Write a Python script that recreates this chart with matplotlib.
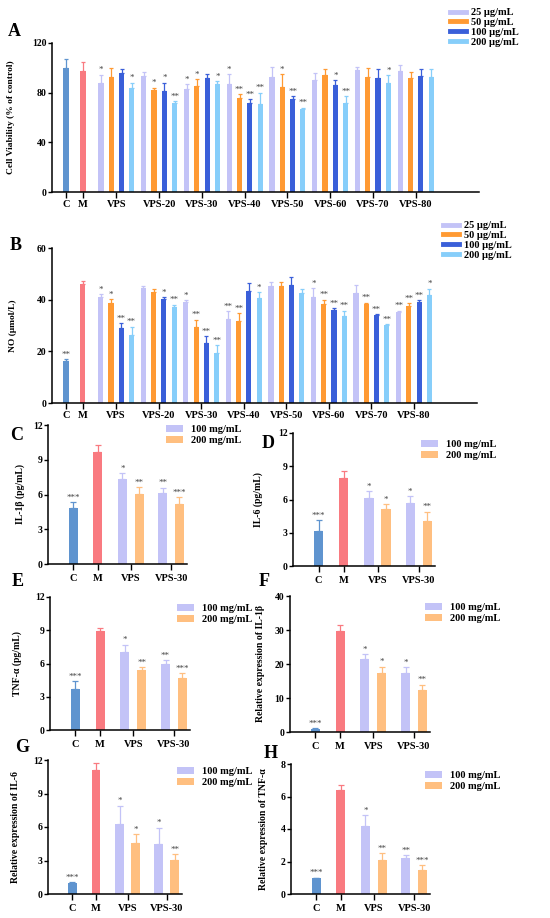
import matplotlib
matplotlib.use('Agg')
import matplotlib.pyplot as plt
from matplotlib.patches import Patch
from matplotlib.lines import Line2D

plt.rcParams['font.family'] = ['Liberation Serif', 'DejaVu Serif']
plt.rcParams['font.weight'] = 'bold'
plt.rcParams['axes.labelweight'] = 'bold'

W, H = 550, 918

# ---------------- data ----------------
big_groups = ['VPS', 'VPS-20', 'VPS-30', 'VPS-40', 'VPS-50', 'VPS-60', 'VPS-70', 'VPS-80']
big_doses = ['25 μg/mL', '50 μg/mL', '100 μg/mL', '200 μg/mL']

# panel A: cell viability
via_cm = [100.0, 97.5]
via_cm_sd = [7.0, 7.5]
via = [[87.5, 93, 96, 84], [93.5, 82, 81.5, 72], [83, 85.5, 91.5, 87],
       [87, 76, 71.5, 71], [93, 84.5, 74.5, 67], [90.5, 94, 86, 72],
       [98.5, 92.5, 91.5, 88], [97.5, 92, 93.5, 93]]
via_sd = [[7, 7, 3, 4], [3, 2, 6.5, 1], [4, 5.5, 3.5, 2],
          [8, 3, 3.5, 9], [8, 10.5, 2.5, 1], [5.5, 5, 4, 5],
          [2.5, 7.5, 7.5, 6], [4.5, 5, 5.5, 6]]
via_sig_cm = ['', '']
via_sig = [['*', '', '', '*'], ['', '*', '*', '**'], ['*', '*', '', '*'],
           ['*', '**', '**', '**'], ['', '*', '**', '**'], ['', '', '*', '**'],
           ['', '', '', '*'], ['', '', '', '']]

# panel B: NO
no_cm = [16.3, 46.2]
no_cm_sd = [0.7, 1.0]
no = [[41, 38.8, 29.2, 26.2], [44.7, 42.8, 40.1, 37.3], [39.2, 29.5, 23.2, 19.3],
      [32.4, 31.6, 43.2, 40.5], [45.2, 45.2, 45.6, 42.7], [41.2, 38.4, 36.1, 33.5],
      [42.4, 38.4, 34.0, 30.3], [35.1, 37.6, 39.2, 42.0]]
no_sd = [[1.2, 1.3, 1.6, 3.3], [0.4, 1.4, 0.9, 0.8], [0.6, 2.8, 2.6, 3.2],
         [3.1, 3.1, 3.1, 2.3], [1.8, 1.8, 3.0, 1.6], [3.3, 1.6, 0.6, 2.3],
         [3.1, 0.5, 0.5, 0.3], [0.7, 1.1, 0.6, 2.3]]
no_sig_cm = ['**', '']
no_sig = [['*', '*', '**', '**'], ['', '', '*', '**'], ['*', '**', '**', '**'],
          ['**', '**', '', '*'], ['', '', '', ''], ['*', '**', '**', '**'],
          ['', '**', '**', '**'], ['**', '**', '**', '*']]

# panels C-H: order C, M, VPS-100, VPS-200, VPS30-100, VPS30-200
small_groups = ['C', 'M', 'VPS', 'VPS-30']
small_doses = ['100 mg/mL', '200 mg/mL']

il1b = [4.85, 9.65, 7.35, 6.06, 6.15, 5.2]
il1b_sd = [0.5, 0.65, 0.5, 0.55, 0.45, 0.6]
il1b_sig = ['***', '', '*', '**', '**', '***']

il6 = [3.2, 7.97, 6.1, 5.1, 5.65, 4.05]
il6_sd = [0.95, 0.63, 0.65, 0.45, 0.65, 0.85]
il6_sig = ['***', '', '*', '*', '*', '**']

tnf = [3.73, 8.9, 7.05, 5.45, 5.95, 4.65]
tnf_sd = [0.67, 0.3, 0.65, 0.25, 0.35, 0.45]
tnf_sig = ['***', '', '*', '**', '**', '***']

rel_il1b = [1.0, 29.8, 21.4, 17.4, 17.5, 12.5]
rel_il1b_sd = [0.1, 1.7, 1.6, 1.8, 1.5, 1.4]
rel_il1b_sig = ['***', '', '*', '*', '*', '**']

rel_il6 = [1.0, 11.1, 6.27, 4.6, 4.5, 3.05]
rel_il6_sd = [0.05, 0.65, 1.63, 0.75, 1.45, 0.55]
rel_il6_sig = ['***', '', '*', '*', '*', '**']

rel_tnf = [0.96, 6.37, 4.2, 2.07, 2.23, 1.48]
rel_tnf_sd = [0.05, 0.33, 0.65, 0.43, 0.17, 0.3]
rel_tnf_sig = ['***', '', '*', '**', '**', '***']

# colours
c_ctrl = '#5f94cf'
c_model = '#f97a80'
big_cols = ['#c3c3f7', '#ff9a33', '#3a5fd9', '#87cefa']
small_cols = ['#c3c3f7', '#ffbf80']
star_col = '#444444'


def rect(l, r, t, b):
    return [l / W, 1 - b / H, (r - l) / W, (b - t) / H]


def style_axis(ax, ylim, yticks, xpad):
    for s in ['top', 'right']:
        ax.spines[s].set_visible(False)
    for s in ['left', 'bottom']:
        ax.spines[s].set_linewidth(1.1)
    ax.set_ylim(*ylim)
    ax.set_yticks(yticks)
    ax.tick_params(axis='y', length=3, width=1, labelsize=7, pad=1)
    ax.tick_params(axis='x', length=4, width=1, labelsize=7.5, pad=xpad)
    for lab in ax.get_yticklabels() + ax.get_xticklabels():
        lab.set_fontweight('bold')


def one_bar(ax, x, v, sd, col, w, sig, ytop, cap):
    ax.bar(x, v, width=w, color=col, zorder=2)
    ax.errorbar(x, v, yerr=[[0], [sd]], ecolor=col, elinewidth=0.9,
                capsize=cap, capthick=0.9, fmt='none', zorder=2)
    if sig:
        ax.text(x, v + sd + ytop * 0.003, sig, ha='center', va='bottom',
                fontsize=6.5, color=star_col, fontweight='normal')


def big_panel(r, cm, cm_sd, cm_sig, vals, sds, sigs, ylim, yticks, ylabel,
              letter, letter_xy, ylab_x, leg_xy):
    ax = fig.add_axes(r)
    ytop = ylim[1]
    w = 0.5
    cm_x = [0, 1.65]
    for i in range(2):
        one_bar(ax, cm_x[i], cm[i], cm_sd[i], [c_ctrl, c_model][i], w, cm_sig[i], ytop, 1.2)
    ticks = list(cm_x)
    for g in range(len(big_groups)):
        start = 3.4 + 4.15 * g
        for d in range(4):
            one_bar(ax, start + d, vals[g][d], sds[g][d], big_cols[d], w,
                    sigs[g][d], ytop, 1.2)
        ticks.append(start + 1.5)
    ax.set_xlim(-1.36, 40.1)
    ax.set_xticks(ticks)
    ax.set_xticklabels(['C', 'M'] + big_groups)
    style_axis(ax, ylim, yticks, 1.5)
    ax.set_ylabel(ylabel, fontsize=6.8, fontweight='bold')
    ax.yaxis.set_label_coords(ylab_x / W, r[1] + r[3] / 2, transform=fig.transFigure)
    fig.text(letter_xy[0] / W, 1 - letter_xy[1] / H, letter, fontsize=13,
             fontweight='bold', ha='left', va='center')
    handles = [Line2D([0], [0], color=c, lw=3.5) for c in big_cols]
    fig.legend(handles, big_doses, loc='upper left',
               bbox_to_anchor=(leg_xy[0] / W, 1 - leg_xy[1] / H),
               frameon=False, handlelength=1.5, handletextpad=0.5,
               labelspacing=0.05, borderpad=0, borderaxespad=0,
               prop={'weight': 'bold', 'size': 7.5})
    return ax


def small_panel(r, vals, sds, sigs, ylim, yticks, ylabel, letter, letter_xy,
                ylab_x, leg_xy):
    ax = fig.add_axes(r)
    ytop = ylim[1]
    w = 0.54
    xs = [0, 1.47, 2.94, 3.94, 5.35, 6.35]
    cols = [c_ctrl, c_model] + small_cols + small_cols
    for i in range(6):
        one_bar(ax, xs[i], vals[i], sds[i], cols[i], w, sigs[i], ytop, 2)
    ax.set_xlim(-1.5, 6.8)
    ax.set_xticks([0, 1.47, 3.44, 5.85])
    ax.set_xticklabels(small_groups)
    style_axis(ax, ylim, yticks, 3)
    ax.set_ylabel(ylabel, fontsize=7, fontweight='bold')
    ax.yaxis.set_label_coords(ylab_x / W, r[1] + r[3] / 2, transform=fig.transFigure)
    fig.text(letter_xy[0] / W, 1 - letter_xy[1] / H, letter, fontsize=13,
             fontweight='bold', ha='left', va='center')
    handles = [Patch(facecolor=c, edgecolor='none') for c in small_cols]
    fig.legend(handles, small_doses, loc='upper left',
               bbox_to_anchor=(leg_xy[0] / W, 1 - leg_xy[1] / H),
               frameon=False, handlelength=1.6, handleheight=0.7,
               handletextpad=0.8, labelspacing=0.12, borderpad=0,
               borderaxespad=0, prop={'weight': 'bold', 'size': 7.5})
    return ax


fig = plt.figure(figsize=(W / 100, H / 100), dpi=100)

big_panel(rect(52, 479, 43, 192), via_cm, via_cm_sd, via_sig_cm, via, via_sd, via_sig,
          (0, 120), [0, 40, 80, 120], 'Cell Viability (% of control)',
          'A', (8, 31), 15, (450, 8))
big_panel(rect(52, 477, 248, 403), no_cm, no_cm_sd, no_sig_cm, no, no_sd, no_sig,
          (0, 60), [0, 20, 40, 60], 'NO (μmol/L)',
          'B', (10, 245), 17, (443, 221))

small_panel(rect(48, 187, 425, 564), il1b, il1b_sd, il1b_sig, (0, 12), [0, 3, 6, 9, 12],
            'IL-1β (pg/mL)', 'C', (10, 436), 25, (166, 425))
small_panel(rect(293, 435, 433, 566), il6, il6_sd, il6_sig, (0, 12), [0, 3, 6, 9, 12],
            'IL-6 (pg/mL)', 'D', (262, 443), 263, (421, 440))
small_panel(rect(50, 190, 597, 730), tnf, tnf_sd, tnf_sig, (0, 12), [0, 3, 6, 9, 12],
            'TNF-α (pg/mL)', 'E', (12, 582), 22, (177, 604))
small_panel(rect(290, 430, 596, 732), rel_il1b, rel_il1b_sd, rel_il1b_sig, (0, 40),
            [0, 10, 20, 30, 40], 'Relative expression of IL-1β', 'F', (259, 582), 265, (425, 603))
small_panel(rect(48, 182, 760, 894), rel_il6, rel_il6_sd, rel_il6_sig, (0, 12),
            [0, 3, 6, 9, 12], 'Relative expression of IL-6', 'G', (15, 748), 20, (177, 767))
small_panel(rect(291, 430, 764, 894), rel_tnf, rel_tnf_sd, rel_tnf_sig, (0, 8),
            [0, 2, 4, 6, 8], 'Relative expression of TNF-α', 'H', (264, 753), 268, (425, 771))

fig.savefig('out.png', dpi=100)
